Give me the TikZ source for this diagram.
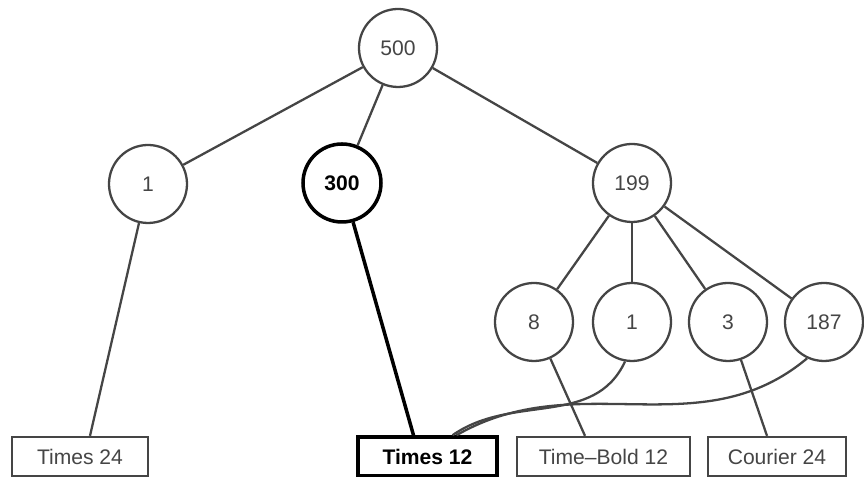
\documentclass[tikz,border=0pt]{standalone}
\usepackage{fontspec}
\setmainfont{Liberation Sans}
\usepackage{xcolor}
\usepackage{tikz}
\usetikzlibrary{positioning}
\definecolor{gris}{HTML}{454545}
\definecolor{texto}{HTML}{454545}

\begin{document}
\begin{tikzpicture}[
  font=\fontsize{12}{14}\selectfont,
  nodo/.style={circle, draw=gris, line width=1.3pt, text=texto, minimum size=1.56cm, inner sep=0pt},
  marcado/.style={draw=black, line width=2pt, text=black, font=\fontsize{12}{14}\selectfont\bfseries},
  fuente/.style={draw=gris, line width=1.3pt, text=texto, minimum height=0.78cm, inner sep=2pt},
  arista/.style={gris, line width=1.3pt},
  fuerte/.style={black, line width=2pt}
]
  \useasboundingbox (0,0) rectangle (17.28,9.54);

  \node[nodo] (raiz) at (7.96,8.58) {500};
  \node[nodo] (uno) at (2.96,5.86) {1};
  \node[nodo, marcado] (tres) at (6.84,5.88) {300};
  \node[nodo] (ciento) at (12.64,5.88) {199};
  \node[nodo] (ocho) at (10.68,3.10) {8};
  \node[nodo] (unob) at (12.64,3.10) {1};
  \node[nodo] (tresb) at (14.56,3.10) {3};
  \node[nodo] (otro) at (16.48,3.10) {187};

  \node[fuente, minimum width=2.72cm] (times24) at (1.60,0.41) {Times 24};
  \node[fuente, marcado, minimum width=2.78cm, inner sep=2pt] (times12) at (8.55,0.41) {Times 12};
  \node[fuente, minimum width=3.46cm] (negrita) at (12.07,0.41) {Time--Bold 12};
  \node[fuente, minimum width=2.76cm] (courier) at (15.54,0.41) {Courier 24};

  \draw[arista] (raiz) -- (uno);
  \draw[arista] (raiz) -- (tres);
  \draw[arista] (raiz) -- (ciento);
  \draw[arista] (ciento) -- (ocho);
  \draw[arista] (ciento) -- (unob);
  \draw[arista] (ciento) -- (tresb);
  \draw[arista] (ciento) -- (otro);

  \draw[arista] (uno) -- ([xshift=0.2cm]times24.north);
  \draw[fuerte] (tres) -- ([xshift=-0.28cm]times12.north);
  \draw[arista] (ocho) -- ([xshift=-0.37cm]negrita.north);
  \draw[arista] (tresb) -- ([xshift=-0.2cm]courier.north);
  \draw[arista] (unob.-100) to[out=-115, in=35] ([xshift=0.5cm]times12.north);
  \draw[arista] (otro.-115) to[out=-140, in=30] ([xshift=0.58cm]times12.north);
\end{tikzpicture}
\end{document}
